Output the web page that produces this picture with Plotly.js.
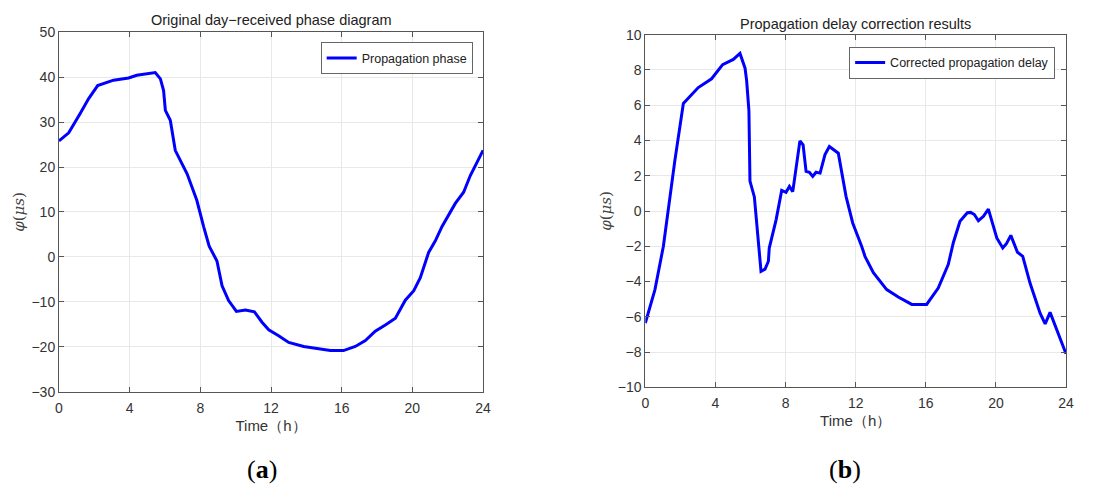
<!DOCTYPE html>
<html><head><meta charset="utf-8">
<script src="https://cdn.plot.ly/plotly-3.0.1.min.js"></script>
<style>html,body{margin:0;padding:0;background:#fff}#chart{width:1113px;height:493px}</style>
</head><body><div id="chart"></div>
<script>
// Panel (a): original day-received phase
const timeA = [0,0.55,1.2,1.68,2.19,3.09,3.94,4.4,5.45,5.74,5.92,6.02,6.3,6.58,7.25,7.8,8.19,8.5,8.94,9.23,9.6,10.04,10.55,11.06,11.49,11.87,12.43,13.0,13.85,14.6,15.36,16.1,16.77,17.34,17.9,18.47,19.04,19.6,20.08,20.45,20.92,21.3,21.68,22.43,22.9,23.28,24.0];
const phaseA = [25.8,27.6,31.9,35.2,38.1,39.3,39.8,40.4,41.0,39.6,37.0,32.6,30.4,23.7,18.5,12.6,6.7,2.4,-0.9,-6.4,-9.7,-12.1,-11.8,-12.2,-14.5,-16.2,-17.5,-19.0,-19.9,-20.3,-20.8,-20.8,-19.9,-18.6,-16.5,-15.1,-13.6,-9.6,-7.5,-4.6,1.0,3.6,6.8,11.9,14.4,18.1,23.7];
// Panel (b): corrected propagation delay
const timeB = [0,0.55,1.03,1.26,1.69,2.17,2.55,3.02,3.78,4.41,5.02,5.4,5.69,5.78,5.91,5.97,6.22,6.39,6.6,6.83,7.02,7.07,7.46,7.78,8.03,8.22,8.41,8.82,9.0,9.17,9.36,9.55,9.74,9.97,10.25,10.5,11.01,11.45,11.83,12.34,12.53,13.01,13.77,14.43,15.2,16.05,16.71,17.28,17.57,17.95,18.37,18.56,18.77,19.0,19.29,19.57,20.05,20.39,20.6,20.85,21.23,21.53,21.95,22.52,22.81,23.09,24.0];
const delayB = [-6.36,-4.46,-2.0,-0.3,2.9,6.1,6.5,7.0,7.5,8.3,8.6,8.94,8.1,7.4,5.7,1.7,0.8,-0.9,-3.42,-3.3,-2.85,-2.1,-0.5,1.17,1.06,1.4,1.1,3.98,3.75,2.25,2.2,1.96,2.2,2.15,3.2,3.66,3.28,0.83,-0.68,-2.0,-2.57,-3.5,-4.46,-4.88,-5.3,-5.3,-4.37,-3.04,-1.8,-0.58,-0.1,-0.08,-0.2,-0.55,-0.3,0.11,-1.53,-2.1,-1.85,-1.38,-2.34,-2.57,-4.1,-5.8,-6.4,-5.75,-8.1];
const xTicks = [0,4,8,12,16,20,24];
const yTicksA = [-30,-20,-10,0,10,20,30,40,50];
const yTicksB = [-10,-8,-6,-4,-2,0,2,4,6,8,10];

const sans = 'Liberation Sans, Arial, sans-serif';
const axCol = '#555';
const txtCol = '#333';
function xax(domain, anchor){
  return {domain:domain, anchor:anchor, range:[0,24], tickvals:xTicks, ticks:'inside', ticklen:5, tickcolor:axCol,
    showline:true, linecolor:axCol, linewidth:1, mirror:'ticks', showgrid:true, gridcolor:'#e8e8e8', zeroline:false,
    tickfont:{family:sans,size:14,color:txtCol}, ticklabelstandoff:3, automargin:false,
    title:{text:'Time（h）', font:{family:sans,size:15,color:txtCol}, standoff:5}};
}
function yax(domain, anchor, range, tv, standoff){
  return {domain:domain, anchor:anchor, range:range, tickvals:tv, ticks:'inside', ticklen:5, tickcolor:axCol,
    showline:true, linecolor:axCol, linewidth:1, mirror:'ticks', showgrid:true, gridcolor:'#e8e8e8', zeroline:false,
    tickfont:{family:sans,size:14,color:txtCol}, automargin:false,
    title:{text:'<i>φ</i>(<i>μs</i>)', font:{family:'DejaVu Serif, Liberation Serif, serif',size:15,color:'#444'}, standoff:standoff}};
}
const data = [
  {x:timeA, y:phaseA, type:'scatter', mode:'lines', name:'Propagation phase', line:{color:'#0000ff',width:3}, xaxis:'x', yaxis:'y', legend:'legend'},
  {x:timeB, y:delayB, type:'scatter', mode:'lines', name:'Corrected propagation delay', line:{color:'#0000ff',width:3}, xaxis:'x2', yaxis:'y2', legend:'legend2'}
];
const layout = {
  width:1113, height:493, margin:{l:0,r:0,t:0,b:0}, paper_bgcolor:'#fff', plot_bgcolor:'#fff', showlegend:true,
  xaxis: xax([0.053,0.434],'y'),
  yaxis: yax([0.205,0.935],'x',[-30,50],yTicksA,3),
  xaxis2: xax([0.5798,0.9578],'y2'),
  yaxis2: yax([0.2144,0.9296],'x2',[-10,10],yTicksB,2),
  legend:{x:0.4247,y:0.914,xanchor:'right',yanchor:'top',bordercolor:'#666',borderwidth:1,bgcolor:'#fff',font:{family:sans,size:12.5,color:'#222'}},
  legend2:{x:0.948,y:0.905,xanchor:'right',yanchor:'top',bordercolor:'#666',borderwidth:1,bgcolor:'#fff',font:{family:sans,size:12.5,color:'#222'}},
  annotations:[
    {text:'Original day−received phase diagram', xref:'paper', yref:'paper', x:271/1113, y:1-20/493, xanchor:'center', yanchor:'middle', showarrow:false, font:{family:sans,size:14.5,color:'#222'}},
    {text:'Propagation delay correction results', xref:'paper', yref:'paper', x:855/1113, y:1-24/493, xanchor:'center', yanchor:'middle', showarrow:false, font:{family:sans,size:14.5,color:'#222'}},
    {text:'(<b>a</b>)', xref:'paper', yref:'paper', x:262/1113, y:1-469/493, xanchor:'center', yanchor:'middle', showarrow:false, font:{family:'Liberation Serif, DejaVu Serif, serif',size:26,color:'#000'}},
    {text:'(<b>b</b>)', xref:'paper', yref:'paper', x:845/1113, y:1-469/493, xanchor:'center', yanchor:'middle', showarrow:false, font:{family:'Liberation Serif, DejaVu Serif, serif',size:26,color:'#000'}}
  ]
};
Plotly.newPlot('chart', data, layout, {displayModeBar:false, staticPlot:true});
</script></body></html>
